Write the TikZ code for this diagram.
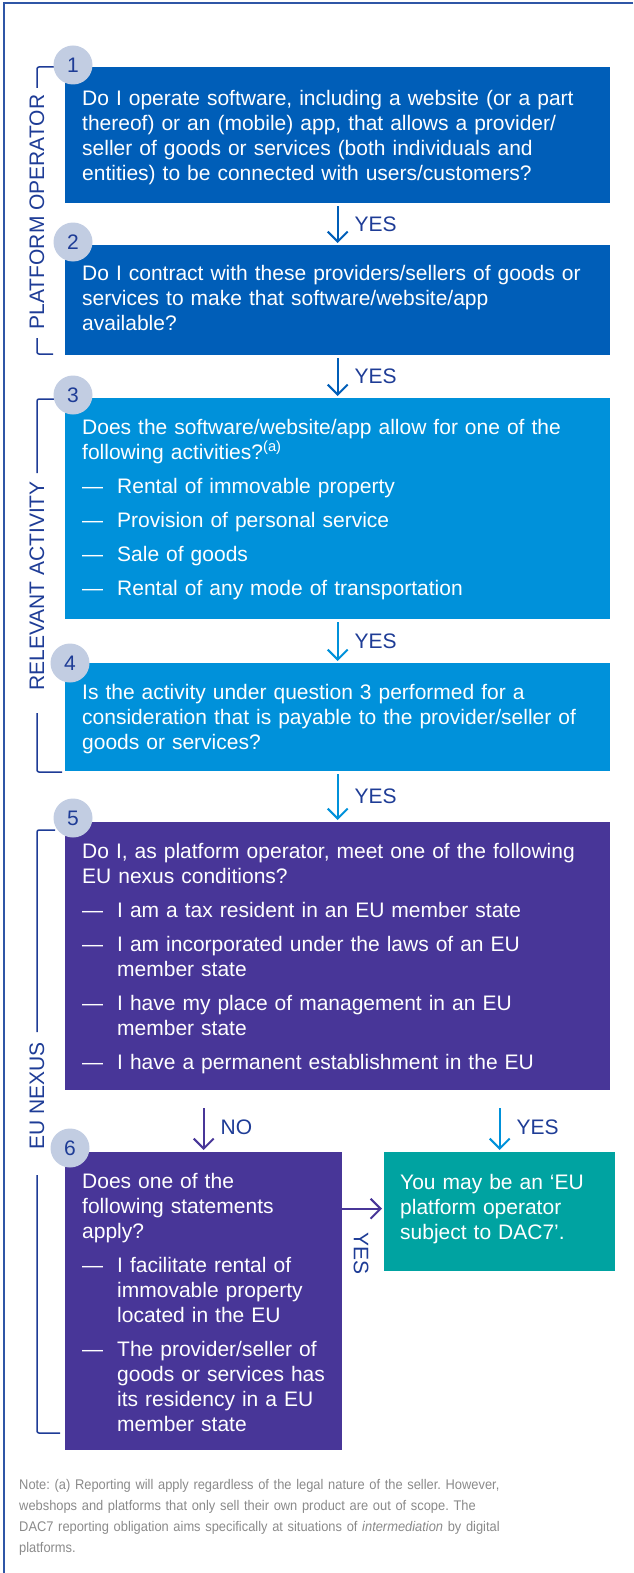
\documentclass[tikz,border=0pt]{standalone}
\usepackage{fontspec}
\setmainfont{Liberation Sans}
\newfontfamily\notefont[FakeStretch=0.92]{Liberation Sans}
\usetikzlibrary{arrows.meta,calc}

\definecolor{kpmgnavy}{HTML}{1E3C96}
\definecolor{kpmgframe}{HTML}{2F56A6}
\definecolor{kpmgmid}{HTML}{005EB8}
\definecolor{kpmglight}{HTML}{0091DA}
\definecolor{kpmgviolet}{HTML}{483698}
\definecolor{kpmgteal}{HTML}{00A3A1}
\definecolor{numfill}{HTML}{C2CDE2}
\definecolor{notegray}{HTML}{8A8A8A}

\newcommand{\qfont}{\fontsize{21}{25}\selectfont\parindent=0pt\frenchspacing}
\newcommand{\qitem}[1]{\par\vspace{9pt}\noindent\hangindent=35pt\hangafter=1\makebox[35pt][l]{---}#1\par}

\begin{document}
\begin{tikzpicture}[x=1pt, y=-1pt,
        qbox/.style={rectangle, anchor=north west, inner sep=0pt},
        qtext/.style={anchor=north west, inner sep=0pt, text width=530pt, align=left, text=white, font=\qfont},
        num/.style={circle, fill=numfill, minimum size=39pt, inner sep=0pt, text=kpmgnavy, font=\qfont},
        arr/.style={-{Straight Barb[length=10pt,width=20pt]}, line width=2pt, shorten <=3pt, shorten >=2pt},
        yeslbl/.style={midway, right=16pt, inner sep=0pt, text=kpmgnavy, font=\qfont},
        side/.style={rotate=90, inner sep=0pt, text=kpmgnavy, font=\qfont},
        bracket/.style={kpmgnavy, line width=1.5pt, rounded corners=2pt},
        note/.style={anchor=north west, inner sep=0pt, text width=610pt, align=left, text=notegray, font=\notefont\fontsize{14}{21}\selectfont\frenchspacing}
    ]
        \useasboundingbox (0,0) rectangle (633,1573);
        % frame
        \draw[kpmgframe, line width=1.5pt] (633,3) -- (4,3) -- (4,1573);

        % Platform operator
        \node[qbox, fill=kpmgmid, minimum width=545, minimum height=136] (box1) at (65,67) {};
        \node[qtext] (q1) at (82,90) {Do I operate software, including a website (or a part\\
            thereof) or an (mobile) app, that allows a provider/\\
            seller of goods or services (both individuals and\\
            entities) to be connected with users/customers?};
        \node[qbox, fill=kpmgmid, minimum width=545, minimum height=110] (box2) at (65,245) {};
        \node[qtext] (q2) at (82,265) {Do I contract with these providers/sellers of goods or\\
            services to make that software/website/app\\
            available?};

        % Relevant activity
        \node[qbox, fill=kpmglight, minimum width=545, minimum height=221] (box3) at (65,398) {};
        \node[qtext] (q3) at (82,419) {Does the software/website/app allow for one of the\\
            following activities?\textsuperscript{(a)}
            \qitem{Rental of immovable property}
            \qitem{Provision of personal service}
            \qitem{Sale of goods}
            \qitem{Rental of any mode of transportation}};
        \node[qbox, fill=kpmglight, minimum width=545, minimum height=108] (box4) at (65,663) {};
        \node[qtext] (q4) at (82,684) {Is the activity under question 3 performed for a\\
            consideration that is payable to the provider/seller of\\
            goods or services?};

        % EU nexus
        \node[qbox, fill=kpmgviolet, minimum width=545, minimum height=268] (box5) at (65,822) {};
        \node[qtext] (q5) at (82,843) {Do I, as platform operator, meet one of the following\\
            EU nexus conditions?
            \qitem{I am a tax resident in an EU member state}
            \qitem{I am incorporated under the laws of an EU\newline member state}
            \qitem{I have my place of management in an EU\newline member state}
            \qitem{I have a permanent establishment in the EU}};
        \node[qbox, fill=kpmgviolet, minimum width=277, minimum height=298] (box6) at (65,1152) {};
        \node[qtext] (q6) at (82,1173) {Does one of the\\
            following statements\\
            apply?
            \qitem{I facilitate rental of\newline immovable property\newline located in the EU}
            \qitem{The provider/seller of\newline goods or services has\newline its residency in a EU\newline member state}};
        \node[qbox, fill=kpmgteal, minimum width=231, minimum height=119] (box7) at (384,1152) {};
        \node[qtext] (q7) at (400,1174) {You may be an ‘EU\\
            platform operator\\
            subject to DAC7’.};

        % brackets and side labels
        \draw[bracket] (55,67) -- (37,67) -- (37,88);
        \draw[bracket] (37,338) -- (37,354) -- (53,354);
        \node[side] (lab1) at (37,212) {PLATFORM OPERATOR};
        \draw[bracket] (55,399) -- (37,399) -- (37,473);
        \draw[bracket] (37,713) -- (37,772) -- (62,772);
        \node[side] (lab2) at (37,586) {RELEVANT ACTIVITY};
        \draw[bracket] (55,830) -- (37,830) -- (37,1032);
        \draw[bracket] (37,1175) -- (37,1433) -- (60,1433);
        \node[side] (lab3) at (37,1096) {EU NEXUS};

        % question numbers
        \node[num] (n1) at (73,65) {1};
        \node[num] (n2) at (73,242) {2};
        \node[num] (n3) at (73,395) {3};
        \node[num] (n4) at (70,663) {4};
        \node[num] (n5) at (73,818) {5};
        \node[num] (n6) at (70,1148) {6};

        % arrows
        \draw[arr, kpmgmid] (box1.south) -- (box2.north) node[yeslbl] {YES};
        \draw[arr, kpmgmid] (box2.south) -- (box3.north) node[yeslbl] {YES};
        \draw[arr, kpmglight] (box3.south) -- (box4.north) node[yeslbl] {YES};
        \draw[arr, kpmglight] (box4.south) -- (box5.north) node[yeslbl] {YES};
        \draw[arr, kpmgviolet, shorten <=18pt] (box5.south -| box6.north) -- (box6.north) node[yeslbl, pos=0.6] {NO};
        \draw[arr, kpmglight, shorten <=18pt] (box5.south -| box7.north) -- (box7.north) node[yeslbl, pos=0.6] {YES};
        \draw[arr, kpmgviolet, shorten <=0pt] ([yshift=3pt]box7.west -| box6.east) -- ([yshift=3pt]box7.west);
        \node[side, rotate=180, anchor=west] (yes6) at ($(box6.east |- box7.west)!0.5!(box7.west)+(-2,21)$) {YES};

        % note
        \node[note] (note) at (19,1479) {Note: (a) Reporting will apply regardless of the legal nature of the seller. However,\\
            webshops and platforms that only sell their own product are out of scope. The\\
            DAC7 reporting obligation aims specifically at situations of \textit{intermediation} by digital\\
            platforms.};
    \end{tikzpicture}
\end{document}
